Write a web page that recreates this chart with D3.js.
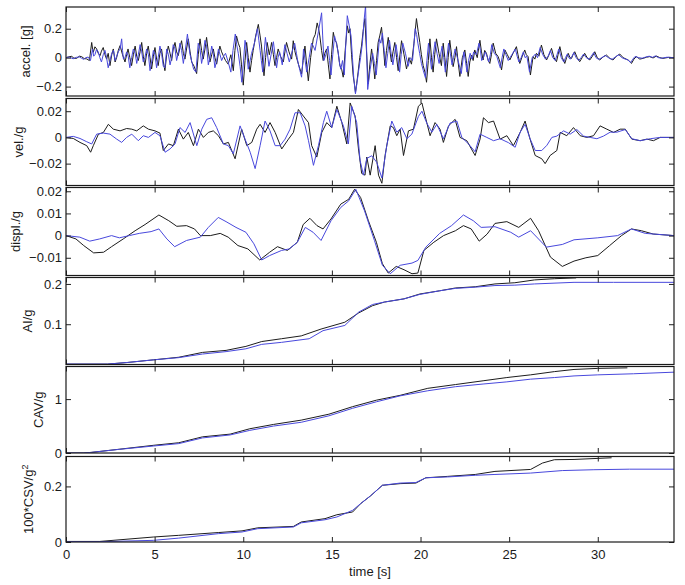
<!DOCTYPE html>
<html>
<head>
<meta charset="utf-8">
<script src="https://cdn.jsdelivr.net/npm/d3@7"></script>
<style>
body { margin: 0; background: #fff; }
svg text { font-family: "Liberation Sans", Arial, Helvetica, sans-serif; }
</style>
</head>
<body>
<svg id="chart"></svg>
<script>
// [time (s), value] pairs, black = record A, blue = record B
var accelBlack = [[0,0],[0.15,0.006],[0.32,0.009],[0.45,-0.004],[0.6,-0.005],[0.75,0.01],[0.88,0.007],[1.02,-0.006],[1.17,-0.009],[1.32,-0.02],[1.45,0.105],[1.5,0.06],[1.54,0.037],[1.63,0.075],[1.73,0.06],[1.82,0.03],[1.92,0.014],[2.0,0.045],[2.1,0.07],[2.2,0.02],[2.29,-0.01],[2.38,0.03],[2.48,-0.055],[2.58,0.02],[2.67,0.06],[2.77,-0.03],[2.86,0.002],[2.95,0.05],[3.05,0.083],[3.19,0.02],[3.33,-0.03],[3.42,0.02],[3.5,0.06],[3.6,0.0],[3.7,-0.055],[3.8,0.02],[3.9,0.08],[3.99,0.01],[4.08,-0.02],[4.18,0.04],[4.27,0.105],[4.36,0.01],[4.45,-0.055],[4.55,0.03],[4.64,0.08],[4.74,0.0],[4.83,-0.078],[4.93,0.01],[5.02,0.07],[5.11,-0.01],[5.2,-0.055],[5.3,0.03],[5.39,0.06],[5.49,-0.03],[5.58,-0.09],[5.68,0.02],[5.77,0.08],[5.87,0.03],[5.96,-0.02],[6.05,0.06],[6.15,0.105],[6.24,0.04],[6.33,0.014],[6.43,0.07],[6.52,0.117],[6.62,0.03],[6.71,-0.01],[6.8,0.06],[6.9,0.13],[7.0,0.04],[7.09,-0.03],[7.23,-0.06],[7.37,-0.11],[7.46,0.02],[7.56,0.13],[7.65,0.05],[7.74,-0.01],[7.84,0.06],[7.93,0.14],[8.03,0.04],[8.12,-0.03],[8.22,0.02],[8.31,0.06],[8.4,0.0],[8.5,-0.045],[8.6,0.03],[8.68,0.08],[8.78,0.04],[8.87,0.014],[9.0,-0.02],[9.15,-0.045],[9.3,0.02],[9.44,-0.09],[9.53,0.05],[9.62,0.15],[9.72,0.1],[9.81,0.07],[9.9,-0.05],[10.0,-0.19],[10.1,-0.02],[10.19,0.105],[10.28,0.0],[10.38,-0.1],[10.47,-0.02],[10.56,0.05],[10.7,0.15],[10.85,0.23],[10.95,0.15],[11.03,0.08],[11.1,-0.03],[11.17,-0.125],[11.26,0.0],[11.35,0.105],[11.47,0.02],[11.6,0.105],[11.7,0.02],[11.79,-0.055],[11.88,0.0],[11.97,0.06],[12.1,0.01],[12.26,-0.03],[12.35,0.04],[12.44,0.105],[12.58,0.04],[12.73,-0.01],[12.82,0.117],[12.9,0.05],[13.0,0.002],[13.15,-0.06],[13.29,-0.113],[13.38,-0.02],[13.48,0.08],[13.58,-0.05],[13.67,-0.16],[13.8,0.0],[13.95,0.13],[14.06,0.16],[14.17,0.24],[14.25,0.2],[14.32,0.15],[14.42,0.05],[14.51,-0.02],[14.6,0.03],[14.7,0.06],[14.8,-0.05],[14.89,-0.147],[14.98,0.02],[15.08,0.175],[15.17,0.12],[15.26,0.105],[15.36,0.03],[15.45,-0.055],[15.55,-0.08],[15.64,-0.135],[15.75,0.05],[15.87,0.22],[15.95,0.17],[16.02,0.2],[16.11,0.02],[16.2,-0.124],[16.27,-0.18],[16.33,-0.24],[16.4,-0.18],[16.48,-0.1],[16.57,0.0],[16.67,0.08],[16.76,0.18],[16.86,0.27],[16.95,0.05],[17.05,-0.18],[17.14,-0.05],[17.24,0.06],[17.33,-0.03],[17.42,-0.147],[17.52,-0.02],[17.61,0.105],[17.7,0.15],[17.8,0.21],[17.9,0.08],[17.99,-0.055],[18.08,0.05],[18.18,0.14],[18.27,0.05],[18.36,-0.03],[18.45,0.04],[18.55,0.105],[18.65,0.0],[18.74,-0.09],[18.84,0.02],[18.93,0.117],[19.07,0.02],[19.21,-0.078],[19.35,0.0],[19.49,-0.045],[19.63,0.1],[19.77,0.27],[19.87,0.18],[19.96,0.105],[20.05,0.02],[20.15,-0.055],[20.25,-0.1],[20.34,-0.17],[20.44,-0.02],[20.53,0.13],[20.62,0.0],[20.71,-0.1],[20.8,0.02],[20.9,0.13],[21.04,0.03],[21.18,-0.055],[21.28,0.1],[21.37,0.0],[21.47,-0.13],[21.56,0.0],[21.65,0.12],[21.75,0.02],[21.84,-0.062],[21.94,0.0],[22.03,0.076],[22.12,-0.03],[22.22,-0.13],[22.36,0.0],[22.5,0.053],[22.6,-0.04],[22.69,-0.13],[22.78,-0.03],[22.88,0.018],[22.97,-0.02],[23.06,0.053],[23.2,0.0],[23.35,0.12],[23.44,0.04],[23.53,-0.016],[23.62,0.05],[23.72,0.03],[23.82,-0.02],[23.91,-0.04],[24.0,0.02],[24.1,0.1],[24.24,0.03],[24.38,0.007],[24.48,-0.03],[24.57,-0.085],[24.66,-0.01],[24.76,0.053],[24.9,0.02],[25.04,-0.016],[25.22,0.03],[25.41,0.076],[25.5,0.02],[25.6,-0.04],[25.74,0.01],[25.88,0.053],[25.97,0.02],[26.07,0.007],[26.2,-0.12],[26.35,0.007],[26.45,-0.01],[26.54,0.03],[26.68,0.01],[26.82,0.087],[26.96,0.02],[27.11,-0.016],[27.25,0.02],[27.39,0.064],[27.53,0.0],[27.67,-0.028],[27.76,0.02],[27.86,0.076],[28.0,0.0],[28.14,-0.04],[28.24,0.0],[28.33,0.03],[28.43,0.0],[28.52,-0.005],[28.6,0.02],[28.7,0.041],[28.84,0.0],[28.98,-0.028],[29.12,0.0],[29.26,0.03],[29.4,0.0],[29.55,-0.016],[29.7,0.01],[29.83,0.041],[29.97,0.0],[30.11,-0.016],[30.3,0.005],[30.49,0.018],[30.68,-0.005],[30.86,-0.016],[31.05,0.01],[31.24,0.025],[31.43,0.0],[31.62,-0.011],[31.76,-0.02],[31.9,-0.04],[32.04,-0.01],[32.18,0.007],[32.37,-0.01],[32.56,-0.005],[32.75,0.003],[32.93,0.007],[33.12,-0.002],[33.31,0.011],[33.5,0.0],[33.68,-0.005],[34.0,0.002],[34.3,0]];
var accelBlue = [[0,0],[0.2,0.004],[0.4,-0.008],[0.58,0.002],[0.75,0.005],[0.88,-0.004],[1.0,-0.012],[1.12,0.0],[1.25,0.004],[1.38,-0.02],[1.5,0.06],[1.56,0.01],[1.63,0.02],[1.72,0.055],[1.82,0.04],[1.91,0.0],[2.0,-0.03],[2.1,0.02],[2.2,0.05],[2.29,0.0],[2.38,-0.07],[2.48,-0.02],[2.58,0.03],[2.68,0.05],[2.77,-0.02],[2.86,0.01],[2.95,0.04],[3.05,0.06],[3.14,0.13],[3.19,0.05],[3.24,-0.01],[3.33,0.0],[3.42,0.04],[3.51,0.01],[3.6,-0.07],[3.7,0.0],[3.8,0.06],[3.9,0.03],[3.99,-0.04],[4.08,0.02],[4.18,0.09],[4.27,0.04],[4.36,-0.03],[4.45,0.0],[4.55,0.06],[4.65,0.02],[4.74,-0.09],[4.83,-0.03],[4.93,0.05],[5.02,0.02],[5.11,-0.07],[5.2,0.0],[5.3,0.08],[5.4,0.02],[5.49,-0.06],[5.58,-0.07],[5.68,0.06],[5.78,0.02],[5.87,-0.05],[5.96,0.0],[6.05,0.09],[6.15,0.06],[6.24,-0.02],[6.33,0.03],[6.43,0.1],[6.52,0.05],[6.62,-0.04],[6.73,0.05],[6.85,0.163],[6.93,0.08],[7.0,0.02],[7.1,-0.03],[7.2,-0.08],[7.33,-0.1],[7.46,0.1],[7.56,0.06],[7.65,-0.04],[7.74,0.02],[7.84,0.12],[7.93,0.08],[8.03,-0.05],[8.12,0.0],[8.22,0.08],[8.31,0.03],[8.4,-0.07],[8.5,-0.02],[8.6,0.06],[8.69,0.02],[8.78,-0.02],[8.89,0.01],[9.0,0.03],[9.15,-0.03],[9.3,-0.1],[9.42,0.05],[9.55,0.163],[9.63,0.09],[9.72,0.03],[9.82,-0.06],[9.92,-0.17],[10.01,-0.03],[10.1,0.12],[10.19,0.05],[10.28,-0.08],[10.37,-0.03],[10.47,0.03],[10.63,0.1],[10.8,0.2],[10.88,0.12],[10.95,0.05],[11.02,-0.02],[11.1,-0.1],[11.17,0.02],[11.25,0.14],[11.35,0.04],[11.45,-0.06],[11.57,0.02],[11.7,0.11],[11.79,0.02],[11.88,-0.07],[11.96,0.0],[12.05,0.04],[12.12,0.0],[12.2,-0.05],[12.27,0.02],[12.35,0.09],[12.47,0.03],[12.6,-0.03],[12.75,0.04],[12.9,0.1],[13.0,0.03],[13.1,-0.04],[13.2,-0.09],[13.29,-0.135],[13.35,-0.04],[13.4,0.06],[13.49,-0.02],[13.58,-0.1],[13.72,0.0],[13.85,0.1],[13.95,0.08],[14.05,0.05],[14.24,0.18],[14.42,0.31],[14.48,0.15],[14.55,-0.02],[14.66,0.02],[14.78,0.08],[14.87,-0.02],[14.95,-0.12],[15.05,0.02],[15.15,0.15],[15.25,0.1],[15.35,0.04],[15.42,-0.03],[15.5,-0.08],[15.6,-0.02],[15.7,-0.12],[15.78,0.08],[15.87,0.29],[15.98,0.22],[16.08,0.15],[16.16,0.0],[16.24,-0.15],[16.33,-0.25],[16.42,-0.17],[16.52,-0.08],[16.62,0.0],[16.72,0.1],[16.81,0.25],[16.9,0.36],[16.96,0.05],[17.02,-0.22],[17.16,-0.08],[17.3,0.03],[17.4,-0.04],[17.5,-0.12],[17.59,0.0],[17.68,0.13],[17.76,0.1],[17.85,0.17],[17.95,0.05],[18.05,-0.07],[18.15,0.03],[18.25,0.12],[18.34,0.03],[18.44,-0.05],[18.53,0.02],[18.62,0.09],[18.72,0.0],[18.82,-0.1],[18.91,0.02],[19.0,0.1],[19.15,0.03],[19.3,-0.06],[19.42,0.0],[19.55,-0.02],[19.62,0.08],[19.7,0.2],[19.78,0.16],[19.85,0.1],[19.95,0.03],[20.05,-0.04],[20.16,-0.09],[20.28,-0.14],[20.36,-0.02],[20.45,0.1],[20.53,0.02],[20.62,-0.08],[20.72,0.02],[20.82,0.11],[20.93,0.03],[21.05,-0.04],[21.13,0.02],[21.22,0.08],[21.31,0.0],[21.4,-0.1],[21.49,0.0],[21.58,0.1],[21.68,0.03],[21.78,-0.05],[21.86,0.0],[21.95,0.06],[22.12,-0.02],[22.3,-0.11],[22.38,-0.03],[22.45,0.04],[22.53,-0.02],[22.62,-0.1],[22.71,-0.02],[22.8,0.03],[22.9,-0.01],[23.0,0.04],[23.15,0.02],[23.3,0.1],[23.38,0.05],[23.45,-0.02],[23.55,0.0],[23.65,0.04],[23.75,0.01],[23.85,-0.03],[23.94,0.02],[24.02,0.09],[24.16,0.03],[24.3,0.01],[24.4,-0.03],[24.5,-0.07],[24.6,0.0],[24.7,0.06],[24.82,0.02],[24.95,-0.02],[25.15,0.02],[25.35,0.06],[25.45,0.01],[25.55,-0.03],[25.68,0.0],[25.8,0.04],[25.9,0.0],[26.0,0.01],[26.15,-0.1],[26.3,0.0],[26.48,0.025],[26.6,0.0],[26.75,0.07],[26.9,0.02],[27.05,-0.01],[27.2,0.01],[27.33,0.05],[27.46,0.0],[27.6,-0.02],[27.7,0.02],[27.8,0.06],[27.94,0.0],[28.08,-0.03],[28.18,0.0],[28.28,0.025],[28.36,0.0],[28.45,-0.01],[28.55,0.01],[28.65,0.035],[28.78,0.0],[28.92,-0.02],[29.06,0.0],[29.2,0.025],[29.35,0.0],[29.5,-0.012],[29.63,0.01],[29.77,0.035],[29.9,0.0],[30.05,-0.012],[30.23,0.0],[30.42,0.015],[30.6,0.0],[30.8,-0.012],[31.0,0.005],[31.18,0.02],[31.36,0.0],[31.55,-0.01],[31.7,-0.015],[31.85,-0.035],[31.98,-0.01],[32.1,0.008],[32.3,0.0],[32.5,-0.004],[32.7,0.004],[32.9,0.01],[33.08,0.002],[33.25,0.012],[33.42,0.0],[33.6,-0.004],[33.9,0.003],[34.3,0]];

var velBlack = [[0,0],[0.41,-0.0008],[0.79,-0.0038],[1.17,-0.0063],[1.39,-0.0113],[1.54,-0.0063],[1.83,0.0025],[2.11,0.0038],[2.39,0.01],[2.67,0.0063],[3.05,0.005],[3.42,0.0068],[3.71,0.0063],[3.99,0.005],[4.36,0.0088],[4.65,0.0063],[5.02,0.005],[5.3,0.0033],[5.49,-0.01],[5.78,-0.005],[6.06,-0.0063],[6.34,0.0063],[6.62,-0.0013],[6.9,0.0038],[7.19,-0.0063],[7.47,0.0063],[7.75,0],[8.03,0.0038],[8.31,0.005],[8.6,0.0013],[8.88,-0.005],[9.16,-0.0038],[9.54,-0.0163],[9.91,0.0063],[10.2,-0.0063],[10.48,-0.0038],[10.76,0.0063],[10.95,0.01],[11.23,0.0038],[11.51,0.0113],[11.8,0.0038],[12.17,-0.0088],[12.55,-0.0013],[12.83,0.0038],[13.11,0.0213],[13.39,0.0163],[13.68,0.0113],[13.86,-0.0063],[14.15,-0.015],[14.43,0.0038],[14.71,0.0113],[14.99,0.0075],[15.28,0.0238],[15.56,0.0113],[15.84,-0.005],[16.03,0.0263],[16.31,0.0163],[16.5,-0.0088],[16.68,-0.0275],[16.87,-0.0288],[16.97,-0.015],[17.16,-0.0288],[17.44,-0.0063],[17.63,-0.0288],[17.82,-0.035],[18.0,-0.0138],[18.29,0.0088],[18.47,0.0075],[18.66,0.0013],[18.85,0.0063],[19.04,-0.0138],[19.32,0.005],[19.6,0.0063],[19.88,0.0238],[20.08,0.0263],[20.26,0.0163],[20.54,0.0013],[20.82,0.0113],[21.1,0.0063],[21.29,-0.0038],[21.58,0.0088],[21.95,0.0138],[22.23,0],[22.61,-0.0025],[23.08,-0.0138],[23.36,-0.0013],[23.55,0.015],[23.83,0.0113],[24.12,0.0125],[24.49,-0.0013],[24.87,0.0013],[25.24,-0.0063],[25.62,0.0038],[25.9,0.0125],[26.18,-0.0013],[26.47,-0.0138],[26.84,-0.0163],[27.03,-0.02],[27.31,-0.0138],[27.69,-0.01],[27.88,0.0038],[28.25,0.0013],[28.63,0.0075],[29.01,0.0013],[29.38,0],[29.76,0.0013],[30.13,0.0088],[30.51,0.0063],[30.89,0.0038],[31.26,0.0063],[31.55,0.0063],[31.92,-0.0013],[32.39,-0.0025],[32.77,-0.0013],[33.14,-0.0025],[33.52,0],[34.3,0]];
var velBlue = [[0,0],[0.41,0.0008],[0.79,-0.0008],[1.17,-0.0033],[1.45,-0.005],[1.73,0.0025],[2.11,0.0033],[2.48,0.0025],[2.86,-0.0013],[3.14,-0.0038],[3.42,0],[3.71,0.0025],[4.08,-0.0025],[4.36,0.0013],[4.65,0],[5.02,0.0038],[5.3,0.0013],[5.59,-0.0113],[5.87,-0.0088],[6.15,-0.005],[6.43,0.0075],[6.72,0.0038],[7.0,0.0113],[7.38,-0.0063],[7.66,0.0063],[7.94,0.0138],[8.22,0.015],[8.5,0.0075],[8.88,-0.005],[9.16,-0.0063],[9.44,-0.0125],[9.82,0.0088],[10.1,-0.0013],[10.39,-0.0113],[10.67,-0.0238],[10.95,-0.0063],[11.23,0.0125],[11.51,0.005],[11.8,-0.0063],[12.08,-0.0063],[12.36,-0.0013],[12.64,0.0063],[12.92,0.0188],[13.21,0.0188],[13.49,0.0088],[13.68,-0.0025],[13.96,-0.0213],[14.24,-0.0063],[14.52,0.0113],[14.71,0.02],[14.99,0.0075],[15.28,0.0213],[15.65,0.0088],[15.93,-0.005],[16.12,0.0238],[16.4,0.0113],[16.59,-0.0175],[16.78,-0.0288],[16.97,-0.016],[17.25,-0.014],[17.53,-0.019],[17.82,-0.031],[18.1,-0.006],[18.38,0.0125],[18.66,0.004],[18.94,0.0075],[19.23,-0.001],[19.51,0.0025],[19.88,0.016],[20.08,0.02],[20.35,0.011],[20.64,0.004],[20.92,0.01],[21.29,-0.001],[21.67,0.011],[22.05,0.0125],[22.33,0],[22.71,-0.005],[23.08,-0.011],[23.36,0.0025],[23.74,0],[24.12,-0.0025],[24.49,-0.001],[24.96,-0.004],[25.34,-0.0075],[25.62,0.004],[25.9,0.01],[26.18,-0.001],[26.47,-0.01],[26.84,-0.01],[27.13,-0.006],[27.41,0],[27.69,0.001],[28.07,0.005],[28.44,0.0025],[28.82,0.006],[29.2,0.001],[29.57,0],[29.95,-0.001],[30.32,0.001],[30.7,0.004],[31.08,0.004],[31.55,0.006],[31.92,-0.001],[32.39,-0.0025],[32.96,-0.001],[33.52,0],[34.3,0]];

var displBlack = [[0,0],[0.56,-0.0015],[1.0,-0.0045],[1.56,-0.0078],[2.12,-0.0075],[2.57,-0.005],[3.23,-0.0015],[3.9,0.0022],[4.46,0.005],[5.24,0.0093],[5.8,0.0067],[6.25,0.0042],[6.8,0.0045],[7.25,0.003],[7.58,0],[8.14,0],[8.7,0.001],[9.15,-0.0007],[9.7,-0.0045],[10.26,-0.006],[10.93,-0.011],[11.49,-0.0075],[11.93,-0.005],[12.49,-0.0067],[13.05,-0.003],[13.38,0.005],[13.76,0.0078],[14.16,0.0045],[14.5,0.003],[14.95,0.0075],[15.5,0.0142],[15.95,0.0164],[16.28,0.0209],[16.62,0.0172],[17.06,0.0067],[17.51,-0.003],[17.85,-0.0127],[18.18,-0.0169],[18.63,-0.0139],[19.07,-0.0154],[19.52,-0.0172],[19.85,-0.0169],[20.19,-0.0067],[20.75,-0.003],[21.3,0],[21.97,0.0022],[22.42,0.0045],[22.86,0.003],[23.31,-0.0025],[23.76,0.0007],[24.2,0.0055],[24.87,0.0063],[25.54,0.0037],[26.21,0.0078],[26.66,0.0022],[27.33,-0.0097],[28.0,-0.0139],[28.66,-0.0115],[29.33,-0.01],[30.0,-0.009],[30.67,-0.0045],[31.34,0],[31.9,0.003],[32.46,0.0022],[33.13,0.0007],[34.3,0]];
var displBlue = [[0,0],[0.78,-0.0007],[1.34,-0.0025],[1.9,-0.0015],[2.57,0],[3.01,-0.001],[3.57,0],[4.13,0.001],[4.8,0.0018],[5.24,0.003],[5.69,-0.0015],[6.13,-0.005],[6.8,-0.0022],[7.58,-0.0007],[8.03,0.0037],[8.59,0.0082],[9.03,0.0063],[9.59,0.0037],[10.15,0.0015],[10.6,-0.0037],[11.04,-0.011],[11.49,-0.009],[12.16,-0.0067],[12.6,-0.006],[13.05,-0.003],[13.5,0.0037],[13.94,0.0015],[14.39,-0.0022],[14.95,0.0067],[15.5,0.0127],[15.95,0.0157],[16.35,0.0209],[16.84,0.0112],[17.4,-0.0022],[17.85,-0.0134],[18.29,-0.0172],[18.85,-0.0134],[19.52,-0.0124],[19.85,-0.0112],[20.3,-0.0052],[21.08,0.001],[21.75,0.0045],[22.42,0.0093],[22.98,0.0067],[23.42,0.0037],[24.2,0.004],[25.09,0.0015],[25.54,-0.0007],[26.21,0.0022],[27.1,-0.0052],[28.0,-0.004],[28.66,-0.0019],[30.0,-0.001],[31.12,0],[31.9,0.003],[32.68,0.001],[34.3,0]];

var aiBlack = [[0,0.001],[2.34,0.001],[3.46,0.005],[4.95,0.0116],[6.36,0.018],[7.7,0.03],[9.03,0.035],[10.15,0.045],[11.04,0.057],[12.16,0.064],[13.27,0.071],[14.39,0.088],[15.73,0.105],[16.51,0.128],[17.29,0.146],[17.96,0.155],[19.07,0.163],[19.96,0.175],[21.08,0.183],[21.97,0.19],[23.09,0.193],[24.2,0.2],[25.32,0.203],[26.43,0.21],[27.55,0.213],[28.78,0.215]];
var aiBlue = [[0,0.001],[2.34,0.001],[3.46,0.005],[4.95,0.0116],[6.36,0.017],[7.7,0.026],[9.03,0.032],[10.15,0.039],[11.04,0.05],[12.16,0.055],[13.72,0.064],[14.5,0.084],[15.73,0.097],[16.51,0.13],[17.29,0.149],[17.96,0.155],[19.07,0.163],[19.96,0.174],[21.08,0.183],[21.97,0.189],[23.09,0.192],[24.2,0.196],[25.32,0.197],[26.43,0.2],[28.66,0.204],[30.89,0.204],[34.3,0.204]];

var cavBlack = [[0,0],[1.0,0],[1.45,0.012],[3.01,0.07],[4.95,0.143],[6.36,0.19],[7.7,0.3],[9.26,0.35],[10.37,0.45],[11.71,0.53],[13.27,0.61],[14.83,0.72],[16.17,0.86],[17.51,0.98],[18.85,1.07],[20.41,1.2],[21.97,1.27],[23.53,1.34],[24.87,1.4],[26.21,1.45],[27.55,1.51],[28.66,1.55],[30.0,1.57],[31.67,1.58]];
var cavBlue = [[0,0],[1.0,0],[1.45,0.012],[3.01,0.068],[4.95,0.13],[6.36,0.174],[7.7,0.28],[9.26,0.335],[10.37,0.42],[11.71,0.5],[13.27,0.57],[14.83,0.69],[16.17,0.83],[17.51,0.95],[18.85,1.06],[20.41,1.155],[21.97,1.23],[23.53,1.28],[24.87,1.32],[26.21,1.37],[27.55,1.4],[28.66,1.43],[30.0,1.45],[32.01,1.47],[34.3,1.5]];

var csvBlack = [[0,0.002],[1.9,0.002],[4.95,0.018],[6.36,0.024],[8.59,0.034],[9.93,0.04],[10.82,0.051],[12.83,0.056],[13.27,0.072],[14.61,0.084],[15.28,0.098],[16.17,0.108],[16.62,0.138],[17.18,0.166],[17.85,0.204],[18.85,0.21],[19.74,0.212],[20.3,0.231],[21.52,0.236],[23.09,0.243],[24.2,0.254],[26.21,0.261],[26.88,0.284],[27.55,0.296],[28.66,0.297],[30.78,0.303]];
var csvBlue = [[0,0.001],[1.9,0.001],[4.95,0.006],[6.36,0.014],[8.59,0.03],[9.93,0.036],[10.82,0.048],[12.83,0.054],[13.27,0.069],[14.61,0.08],[15.28,0.09],[16.17,0.114],[16.62,0.138],[17.18,0.166],[17.85,0.204],[18.85,0.212],[19.74,0.214],[20.3,0.231],[21.52,0.234],[23.09,0.24],[24.2,0.243],[26.21,0.248],[28.0,0.257],[29.78,0.26],[31.79,0.262],[34.3,0.262]];

var timeTicks = [0, 5, 10, 15, 20, 25, 30];
var yLabels = ["accel. [g]", "vel./g", "displ./g", "AI/g", "CAV/g", "100*CSV/g"];
var yTickValues = [[-0.2, 0, 0.2], [-0.02, 0, 0.02], [-0.01, 0, 0.01, 0.02], [0.1, 0.2], [0, 1], [0, 0.2]];
var yDomains = [[-0.265, 0.35], [-0.0367, 0.0297], [-0.018, 0.0217], [0, 0.216], [0, 1.605], [0, 0.3076]];
var blackSeries = [accelBlack, velBlack, displBlack, aiBlack, cavBlack, csvBlack];
var blueSeries = [accelBlue, velBlue, displBlue, aiBlue, cavBlue, csvBlue];

// layout, measured in px
var options = {
    width: 685,
    height: 585,
    left: 66,
    right: 674,
    panelTops: [7, 98.5, 187.5, 277.5, 366.5, 456.5],
    panelBottoms: [96, 185.5, 275.5, 364.5, 453, 542],
    labelX: [30, 23, 19.5, 31.5, 42.5, 33],
    tickSize: 5,
    fontSize: 13,
    lineWidth: 1,
    blackColor: "#1c1c1c",
    blueColor: "#4848dc"
};

function drawPanel(svg, i, x)
{
    var top = options.panelTops[i];
    var bottom = options.panelBottoms[i];
    var y = d3.scaleLinear().domain(yDomains[i]).range([bottom, top]);

    var clipId = "clip" + i;
    svg.append("clipPath")
        .attr("id", clipId)
        .append("rect")
        .attr("x", options.left)
        .attr("y", top)
        .attr("width", options.right - options.left)
        .attr("height", bottom - top);

    var line = d3.line()
        .x(function(d) { return x(d[0]); })
        .y(function(d) { return y(d[1]); });

    var lines = svg.append("g").attr("clip-path", "url(#" + clipId + ")");

    lines.append("path")
        .attr("d", line(blackSeries[i]))
        .attr("fill", "none")
        .attr("stroke", options.blackColor)
        .attr("stroke-width", options.lineWidth);

    lines.append("path")
        .attr("d", line(blueSeries[i]))
        .attr("fill", "none")
        .attr("stroke", options.blueColor)
        .attr("stroke-width", options.lineWidth);

    // Axes with inward ticks on all four sides
    var isLast = (i == yLabels.length - 1);

    var bottomAxis = d3.axisBottom(x)
        .tickValues(timeTicks)
        .tickSizeInner(-options.tickSize)
        .tickSizeOuter(0)
        .tickPadding(7.5)
        .tickFormat(isLast ? d3.format("d") : "");
    var topAxis = d3.axisTop(x)
        .tickValues(timeTicks)
        .tickSizeInner(-options.tickSize)
        .tickSizeOuter(0)
        .tickFormat("");
    var leftAxis = d3.axisLeft(y)
        .tickValues(yTickValues[i])
        .tickSizeInner(-options.tickSize)
        .tickSizeOuter(0)
        .tickPadding(4)
        .tickFormat(function(d) { return d3.format("")(d); });
    var rightAxis = d3.axisRight(y)
        .tickValues(yTickValues[i])
        .tickSizeInner(-options.tickSize)
        .tickSizeOuter(0)
        .tickFormat("");

    var axes = [
        svg.append("g").attr("transform", "translate(0," + bottom + ")").call(bottomAxis),
        svg.append("g").attr("transform", "translate(0," + top + ")").call(topAxis),
        svg.append("g").attr("transform", "translate(" + options.left + ",0)").call(leftAxis),
        svg.append("g").attr("transform", "translate(" + options.right + ",0)").call(rightAxis)
    ];

    for (var a = 0; a < axes.length; a++)
    {
        axes[a].select(".domain").remove();
        axes[a].attr("font-family", null).attr("font-size", options.fontSize);
        axes[a].selectAll(".tick line").attr("stroke", "#222");
        axes[a].selectAll("text").attr("fill", "#1a1a1a");
    }

    // Panel frame
    svg.append("rect")
        .attr("x", options.left)
        .attr("y", top)
        .attr("width", options.right - options.left)
        .attr("height", bottom - top)
        .attr("fill", "none")
        .attr("stroke", "#1a1a1a")
        .attr("stroke-width", 1.2);

    // Y label
    var cy = (top + bottom) / 2;
    var label = svg.append("text")
        .attr("transform", "translate(" + options.labelX[i] + "," + cy + ") rotate(-90)")
        .attr("text-anchor", "middle")
        .attr("font-size", options.fontSize)
        .attr("fill", "#1a1a1a")
        .text(yLabels[i]);

    if (isLast)
    {
        label.append("tspan")
            .attr("dy", -5)
            .attr("font-size", 9)
            .text("2");
    }
}

function draw()
{
    var svg = d3.select("#chart")
        .attr("width", options.width)
        .attr("height", options.height);

    var x = d3.scaleLinear().domain([0, 34.3]).range([options.left, options.right]);

    for (var i = 0; i < yLabels.length; i++)
    {
        drawPanel(svg, i, x);
    }

    svg.append("text")
        .attr("x", (options.left + options.right) / 2)
        .attr("y", 576)
        .attr("text-anchor", "middle")
        .attr("font-size", options.fontSize)
        .attr("fill", "#1a1a1a")
        .text("time [s]");
}

draw();
</script>
</body>
</html>
